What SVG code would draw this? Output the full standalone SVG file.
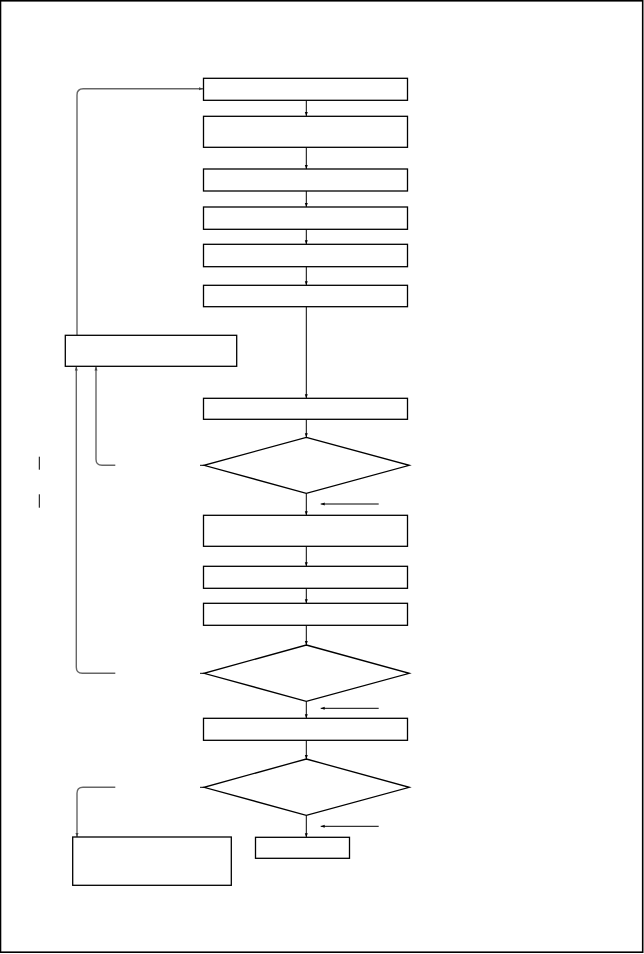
<svg xmlns="http://www.w3.org/2000/svg" width="644" height="954" viewBox="0 0 644 954">
<style>
.box{fill:#fff;stroke:#000;stroke-width:1.3}
.ln{fill:none;stroke:#000;stroke-width:1}
.lp{fill:none;stroke:#666;stroke-width:1.4}
</style>
<defs>
<marker id="ah" markerUnits="userSpaceOnUse" markerWidth="4" markerHeight="4" viewBox="0 0 4 4" refX="4" refY="2" orient="auto">
<path d="M0,0.5 L4,2 L0,3.5 Z" fill="#000"/>
</marker>
<marker id="ahg" markerUnits="userSpaceOnUse" markerWidth="4" markerHeight="4" viewBox="0 0 4 4" refX="4" refY="2" orient="auto">
<path d="M0,0.5 L4,2 L0,3.5 Z" fill="#444"/>
</marker>
</defs>
<rect x="0.5" y="0.8" width="642.2" height="951.4" fill="#fff" stroke="#000" stroke-width="1.6"/>
<g id="connectors">
<path class="ln" d="M306.3,100.3 V116" marker-end="url(#ah)"/>
<path class="ln" d="M306.3,147.3 V169" marker-end="url(#ah)"/>
<path class="ln" d="M306.3,191 V207" marker-end="url(#ah)"/>
<path class="ln" d="M306.3,229.3 V244.3" marker-end="url(#ah)"/>
<path class="ln" d="M306.3,266.7 V285.3" marker-end="url(#ah)"/>
<path class="ln" d="M306.3,306.7 V398.3" marker-end="url(#ah)"/>
<path class="ln" d="M306.3,419.3 V437.3" marker-end="url(#ah)"/>
<path class="ln" d="M306.3,493.3 V515.3" marker-end="url(#ah)"/>
<path class="ln" d="M306.3,546.3 V566.3" marker-end="url(#ah)"/>
<path class="ln" d="M306.3,588.3 V603.3" marker-end="url(#ah)"/>
<path class="ln" d="M306.3,625.3 V645" marker-end="url(#ah)"/>
<path class="ln" d="M306.3,701.3 V718.3" marker-end="url(#ah)"/>
<path class="ln" d="M306.3,740.3 V759" marker-end="url(#ah)"/>
<path class="ln" d="M306.3,815.3 V837.3" marker-end="url(#ah)"/>
<path class="ln" d="M378.7,504 H320.7" marker-end="url(#ah)"/>
<path class="ln" d="M378.7,708.3 H320.7" marker-end="url(#ah)"/>
<path class="ln" d="M378.7,826.3 H320.7" marker-end="url(#ah)"/>
<path class="ln" d="M200,465.3 H204"/>
<path class="ln" d="M200,673.3 H204"/>
<path class="ln" d="M200,787.3 H204"/>
<path class="lp" d="M77,335.3 V95 Q77,88.8 83.2,88.8 H203" marker-end="url(#ahg)"/>
<path class="lp" d="M115.3,465.3 H102 Q96,465.3 96,459.3 V366.5" marker-end="url(#ahg)"/>
<path class="lp" d="M115.3,673.3 H82.3 Q76.3,673.3 76.3,667.3 V366.5" marker-end="url(#ahg)"/>
<path class="lp" d="M115.3,787.3 H83 Q77,787.3 77,793.3 V837" marker-end="url(#ahg)"/>
<path class="ln" d="M39.3,456.7 V469.7 M39.3,494.3 V507.7" stroke-width="1.3"/>
</g>
<g id="n1"><rect class="box" x="203.5" y="78.3" width="204" height="22"/></g>
<g id="n2"><rect class="box" x="203.5" y="116.3" width="204" height="31"/></g>
<g id="n3"><rect class="box" x="203.5" y="169" width="204" height="22"/></g>
<g id="n4"><rect class="box" x="203.5" y="207" width="204" height="22.3"/></g>
<g id="n5"><rect class="box" x="203.5" y="244.3" width="204" height="22.4"/></g>
<g id="n6"><rect class="box" x="203.5" y="285.3" width="204" height="21.4"/></g>
<g id="nL"><rect class="box" x="65.3" y="335.3" width="171.4" height="31"/></g>
<g id="n7"><rect class="box" x="203.5" y="398.3" width="204" height="21"/></g>
<g id="d1"><polygon class="box" points="306.3,437.3 409.3,465.3 306.3,493.3 204,465.3"/></g>
<g id="n8"><rect class="box" x="203.5" y="515.3" width="204" height="31"/></g>
<g id="n9"><rect class="box" x="203.5" y="566.3" width="204" height="22"/></g>
<g id="n10"><rect class="box" x="203.5" y="603.3" width="204" height="22"/></g>
<g id="d2"><polygon class="box" points="306.3,645 409.3,673.3 306.3,701.3 204,673.3"/></g>
<g id="n11"><rect class="box" x="203.5" y="718.3" width="204" height="22"/></g>
<g id="d3"><polygon class="box" points="306.3,759 409.3,787.3 306.3,815.3 204,787.3"/></g>
<g id="nEnd"><rect class="box" x="255.5" y="837.3" width="94" height="21"/></g>
<g id="nB"><rect class="box" x="72.7" y="837" width="158.6" height="48.3"/></g>
</svg>
